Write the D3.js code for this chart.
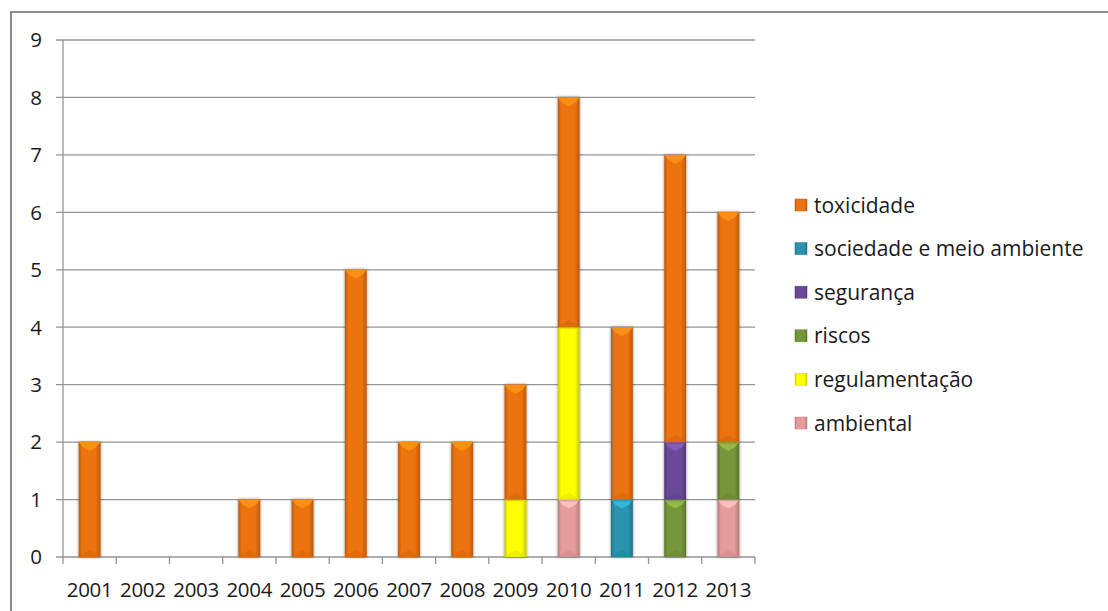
<!DOCTYPE html>
<html>
<head>
<meta charset="utf-8">
<script src="https://cdn.jsdelivr.net/npm/d3@7"></script>
<style>
  body { margin: 0; background: #fff; }
  svg { display: block; font-family: "Open Sans", "Liberation Sans", sans-serif; }
</style>
</head>
<body>
<svg width="1108" height="611"></svg>
<script>
const years = ["2001","2002","2003","2004","2005","2006","2007","2008","2009","2010","2011","2012","2013"];

// series, bottom to top in the stack
const ambiental      = [0,0,0,0,0,0,0,0,0,1,0,0,1];
const regulamentacao = [0,0,0,0,0,0,0,0,1,3,0,0,0];
const riscos         = [0,0,0,0,0,0,0,0,0,0,0,1,1];
const seguranca      = [0,0,0,0,0,0,0,0,0,0,0,1,0];
const sociedade      = [0,0,0,0,0,0,0,0,0,0,1,0,0];
const toxicidade     = [2,0,0,1,1,5,2,2,2,4,3,5,4];

const seriesNames = ["ambiental","regulamentação","riscos","segurança","sociedade e meio ambiente","toxicidade"];
const seriesValues = [ambiental, regulamentacao, riscos, seguranca, sociedade, toxicidade];
const seriesColors = ["#E59C9A","#FFFF00","#76963A","#6A4A98","#2B93B0","#EC730F"];
const yTicks = [0,1,2,3,4,5,6,7,8,9];

const svg = d3.select("svg");

// frame (only top/left visible in the picture)
svg.append("rect")
    .attr("x", 11).attr("y", 12)
    .attr("width", 1200).attr("height", 700)
    .attr("fill", "none")
    .attr("stroke", "#8c8c8c")
    .attr("stroke-width", 2);

const plotLeft = 63, plotRight = 755, plotTop = 40, plotBottom = 557;

const x = d3.scaleBand().domain(years).range([plotLeft, plotRight]).paddingInner(0.59).paddingOuter(0.295);
const xTick = d3.scalePoint().domain(d3.range(years.length + 1)).range([plotLeft, plotRight]);
const y = d3.scaleLinear().domain([0, 9]).range([plotBottom, plotTop]);

// gridlines
svg.append("g").selectAll("line")
    .data(yTicks)
    .enter().append("line")
    .attr("x1", plotLeft - 7).attr("x2", plotRight)
    .attr("y1", d => y(d)).attr("y2", d => y(d))
    .attr("stroke", "#959595")
    .attr("stroke-width", 1.3);

// y axis line
svg.append("line")
    .attr("x1", plotLeft).attr("x2", plotLeft)
    .attr("y1", plotTop).attr("y2", plotBottom)
    .attr("stroke", "#959595").attr("stroke-width", 1.3);

// x category ticks
svg.append("g").selectAll("line")
    .data(d3.range(years.length + 1))
    .enter().append("line")
    .attr("x1", d => xTick(d)).attr("x2", d => xTick(d))
    .attr("y1", plotBottom).attr("y2", plotBottom + 7)
    .attr("stroke", "#959595").attr("stroke-width", 1.3);

// y labels
svg.append("g").selectAll("text")
    .data(yTicks)
    .enter().append("text")
    .attr("x", 42).attr("y", d => y(d))
    .attr("dy", "0.36em")
    .attr("text-anchor", "end")
    .attr("font-size", 20.5)
    .attr("fill", "#1a1a1a")
    .text(d => d);

// x labels
svg.append("g").selectAll("text")
    .data(years)
    .enter().append("text")
    .attr("x", d => x(d) + x.bandwidth() / 2)
    .attr("y", 590)
    .attr("dy", "0.36em")
    .attr("text-anchor", "middle")
    .attr("font-size", 20.5)
    .attr("letter-spacing", -0.3)
    .attr("fill", "#1a1a1a")
    .text(d => d);

// gradients for bevel look
const defs = svg.append("defs");
seriesColors.forEach((c, i) => {
    const g = defs.append("linearGradient").attr("id", "grad" + i)
        .attr("x1", "0").attr("x2", "1").attr("y1", "0").attr("y2", "0");
    const dark = d3.color(c).darker(0.7);
    g.append("stop").attr("offset", "0").attr("stop-color", dark);
    g.append("stop").attr("offset", "0.15").attr("stop-color", c);
    g.append("stop").attr("offset", "0.78").attr("stop-color", c);
    g.append("stop").attr("offset", "1").attr("stop-color", dark);
});
const shadow = defs.append("filter").attr("id", "shadow")
    .attr("x", "-30%").attr("y", "-10%").attr("width", "160%").attr("height", "120%");
shadow.append("feGaussianBlur").attr("in", "SourceAlpha").attr("stdDeviation", 1.5).attr("result", "b");
shadow.append("feComponentTransfer").attr("in", "b").attr("result", "s")
    .append("feFuncA").attr("type", "linear").attr("slope", 0.5);
const merge = shadow.append("feMerge");
merge.append("feMergeNode").attr("in", "s");
merge.append("feMergeNode").attr("in", "SourceGraphic");

// stack
const table = years.map((yr, i) => {
    const row = { year: yr };
    seriesNames.forEach((n, k) => row[n] = seriesValues[k][i]);
    return row;
});
const stacked = d3.stack().keys(seriesNames)(table);

const bars = svg.append("g");
stacked.forEach((layer, k) => {
    const g = bars.append("g");
    layer.forEach(d => {
        if (d[1] - d[0] <= 0) return;
        const bx = x(d.data.year), bw = x.bandwidth();
        const y0 = y(d[0]), y1 = y(d[1]);
        const seg = g.append("g").attr("filter", "url(#shadow)");
        seg.append("rect")
            .attr("x", bx).attr("y", y1)
            .attr("width", bw).attr("height", y0 - y1)
            .attr("fill", "url(#grad" + k + ")");
        // light top bevel
        seg.append("path")
            .attr("d", `M${bx},${y1} L${bx + bw},${y1} L${bx + bw - 4},${y1 + 5} L${bx + bw / 2},${y1 + 9} L${bx + 4},${y1 + 5} Z`)
            .attr("fill", d3.color(seriesColors[k]).brighter(0.7))
            .attr("opacity", 0.85);
        // dark bottom bevel
        seg.append("path")
            .attr("d", `M${bx},${y0} L${bx + bw},${y0} L${bx + bw - 4},${y0 - 3} L${bx + bw / 2},${y0 - 7} L${bx + 4},${y0 - 3} Z`)
            .attr("fill", d3.color(seriesColors[k]).darker(0.3))
            .attr("opacity", 0.6);
    });
});

// legend (reverse order, top = toxicidade)
const legendItems = seriesNames.map((n, k) => ({ name: n, color: seriesColors[k], k: k })).reverse();
const legend = svg.append("g").selectAll("g")
    .data(legendItems)
    .enter().append("g")
    .attr("transform", (d, i) => `translate(795, ${205 + i * 43.6})`);
legend.append("rect")
    .attr("x", 0).attr("y", -6)
    .attr("width", 12).attr("height", 12)
    .attr("fill", d => "url(#grad" + d.k + ")")
    .attr("stroke", d => d3.color(d.color).darker(0.5))
    .attr("stroke-width", 0.5);
legend.append("text")
    .attr("x", 19).attr("y", 0)
    .attr("dy", "0.36em")
    .attr("font-size", 21)
    .attr("fill", "#1a1a1a")
    .text(d => d.name);
</script>
</body>
</html>
